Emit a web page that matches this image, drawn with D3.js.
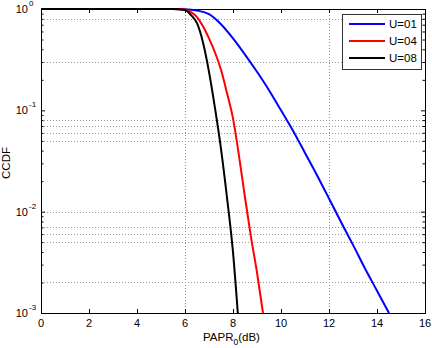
<!DOCTYPE html>
<html>
<head>
<meta charset="utf-8">
<script src="https://cdn.jsdelivr.net/npm/d3@7/dist/d3.min.js"></script>
<style>
  body { margin: 0; background: #fff; }
  text { font-family: "Liberation Sans", Arial, sans-serif; }
</style>
</head>
<body>
<svg id="chart" width="432" height="348"></svg>
<script>
// series data
const u01X = [0, 5.5, 6.0, 6.5, 7.0, 7.5, 8.0, 8.5, 9.0, 9.5, 10.0, 10.5, 11.0, 11.5, 12.0, 12.5, 13.0, 13.5, 14.0, 14.5];
const u01Y = [1, 1, 0.995, 0.966, 0.891, 0.708, 0.513, 0.355, 0.240, 0.158, 0.100, 0.063, 0.038, 0.0229, 0.0135, 0.0079, 0.0047, 0.00275, 0.00166, 0.001];
const u04X = [0, 5.5, 6.0, 6.25, 6.5, 6.75, 7.0, 7.25, 7.5, 7.75, 8.0, 8.25, 8.5, 8.75, 9.0, 9.25];
const u04Y = [1, 1, 0.989, 0.933, 0.832, 0.676, 0.513, 0.372, 0.251, 0.148, 0.0832, 0.0355, 0.0138, 0.00562, 0.00251, 0.001];
const u08X = [0, 5.5, 6.0, 6.25, 6.5, 6.75, 7.0, 7.25, 7.5, 7.75, 8.0, 8.2];
const u08Y = [1, 1, 0.977, 0.871, 0.724, 0.468, 0.240, 0.105, 0.0417, 0.0138, 0.00398, 0.001];

const seriesNames = ["U=01", "U=04", "U=08"];
const seriesColors = ["#0000ff", "#ff0000", "#000000"];

const xTicks = [0, 2, 4, 6, 8, 10, 12, 14, 16];
const yDecades = [1, 0.1, 0.01, 0.001];
const yExponents = ["0", "-1", "-2", "-3"];
const xGrid = [6, 12];
const yGrid = [0.8, 0.3, 0.08, 0.07, 0.06, 0.05, 0.01, 0.007, 0.006, 0.005, 0.002];

const svg = d3.select("#chart");
svg.selectAll("*").remove();

const mLeft = 41, mRight = 425, mTop = 9, mBottom = 313;

const x = d3.scaleLinear().domain([0, 16]).range([mLeft, mRight]);
const y = d3.scaleLog().domain([0.001, 1]).range([mBottom, mTop]);

// minor tick values for the log axis
const yMinor = [];
[0.001, 0.01, 0.1].forEach(d => {
  for (let k = 2; k <= 9; k++) yMinor.push(d * k);
});

// grid (dotted)
svg.append("g").selectAll("line")
  .data(xGrid)
  .join("line")
  .attr("x1", d => x(d) + 0.5).attr("x2", d => x(d) + 0.5)
  .attr("y1", mTop).attr("y2", mBottom)
  .attr("stroke", "#8c8c8c")
  .attr("stroke-dasharray", "1,2");

svg.append("g").selectAll("line")
  .data(yGrid)
  .join("line")
  .attr("x1", mLeft).attr("x2", mRight)
  .attr("y1", d => Math.round(y(d)) + 0.5).attr("y2", d => Math.round(y(d)) + 0.5)
  .attr("stroke", "#9a9a9a")
  .attr("stroke-dasharray", "1,2");

// axes with inward ticks
const fmtNone = () => "";
svg.append("g")
  .attr("transform", `translate(0,${mBottom})`)
  .call(d3.axisBottom(x).tickValues(xTicks).tickSize(-4).tickFormat(fmtNone));
svg.append("g")
  .attr("transform", `translate(0,${mTop})`)
  .call(d3.axisTop(x).tickValues(xTicks).tickSize(-4).tickFormat(fmtNone));
svg.append("g")
  .attr("transform", `translate(${mLeft},0)`)
  .call(d3.axisLeft(y).tickValues(yDecades).tickSize(-4).tickFormat(fmtNone));
svg.append("g")
  .attr("transform", `translate(${mRight},0)`)
  .call(d3.axisRight(y).tickValues(yDecades).tickSize(-4).tickFormat(fmtNone));
svg.append("g")
  .attr("transform", `translate(${mLeft},0)`)
  .call(d3.axisLeft(y).tickValues(yMinor).tickSize(-2.5).tickFormat(fmtNone));
svg.append("g")
  .attr("transform", `translate(${mRight},0)`)
  .call(d3.axisRight(y).tickValues(yMinor).tickSize(-2.5).tickFormat(fmtNone));

svg.selectAll(".domain").attr("stroke", "#000");
svg.selectAll(".tick line").attr("stroke", "#000");

// x tick labels
svg.append("g").selectAll("text")
  .data(xTicks)
  .join("text")
  .attr("x", d => x(d))
  .attr("y", mBottom + 14)
  .attr("text-anchor", "middle")
  .attr("font-size", 11)
  .text(d => d);

// y tick labels (10 with superscript)
const yl = svg.append("g");
yDecades.forEach((d, i) => {
  yl.append("text")
    .attr("x", 28).attr("y", y(d) + 4)
    .attr("text-anchor", "end")
    .attr("font-size", 11)
    .text("10");
  yl.append("text")
    .attr("x", 29).attr("y", y(d) - 3)
    .attr("font-size", 8)
    .text(yExponents[i]);
});

// curves
const line = d3.line()
  .x(d => x(d[0]))
  .y(d => y(d[1]))
  .curve(d3.curveMonotoneX);

const series = [
  d3.zip(u01X, u01Y),
  d3.zip(u04X, u04Y),
  d3.zip(u08X, u08Y)
];

svg.append("g").selectAll("path")
  .data(series)
  .join("path")
  .attr("d", line)
  .attr("fill", "none")
  .attr("stroke", (d, i) => seriesColors[i])
  .attr("stroke-width", 2);

// axis labels
const xl = svg.append("text")
  .attr("x", 203).attr("y", 341)
  .attr("font-size", 11.5);
xl.append("tspan").text("PAPR");
xl.append("tspan").attr("dy", 4).attr("font-size", 8.5).text("0");
xl.append("tspan").attr("dy", -4).text("(dB)");

svg.append("text")
  .attr("transform", "translate(10,163) rotate(-90)")
  .attr("text-anchor", "middle")
  .attr("font-size", 11.5)
  .text("CCDF");

// legend
const lg = svg.append("g");
lg.append("rect")
  .attr("x", 342.5).attr("y", 14.5)
  .attr("width", 79).attr("height", 55)
  .attr("fill", "#fff")
  .attr("stroke", "#333");
seriesNames.forEach((name, i) => {
  const ly = 24 + i * 17;
  lg.append("line")
    .attr("x1", 349).attr("x2", 385)
    .attr("y1", ly).attr("y2", ly)
    .attr("stroke", seriesColors[i])
    .attr("stroke-width", 2);
  lg.append("text")
    .attr("x", 389).attr("y", ly + 4)
    .attr("font-size", 11.5)
    .text(name);
});
</script>
</body>
</html>
